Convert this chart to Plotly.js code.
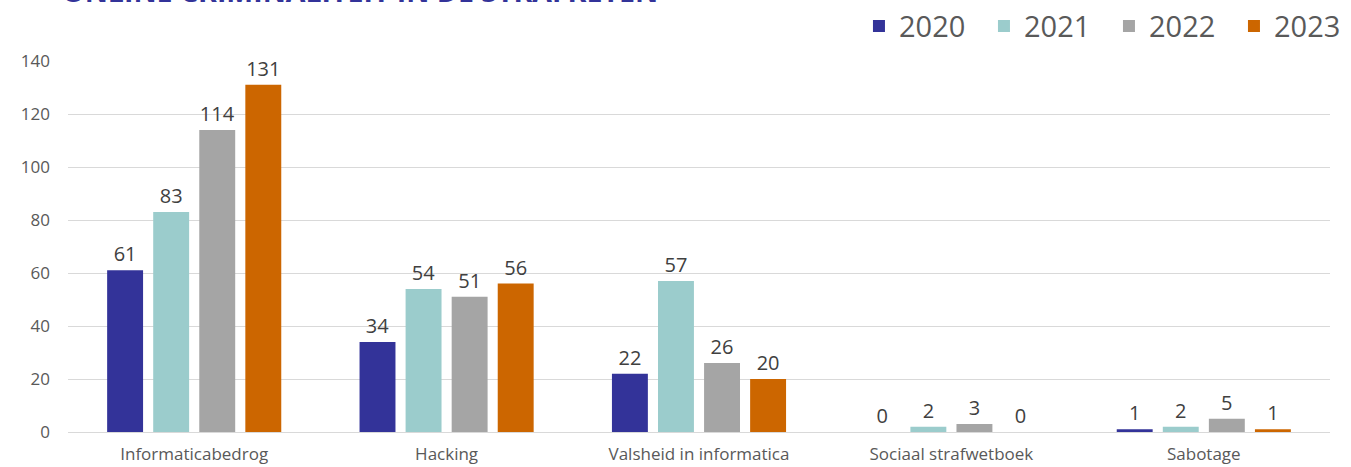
<!DOCTYPE html>
<html>
<head>
<meta charset="utf-8">
<script src="https://cdn.plot.ly/plotly-3.0.1.min.js"></script>
<style>html,body{margin:0;padding:0;background:#fff;}#chart{width:1351px;height:467px;}</style>
</head>
<body>
<div id="chart"></div>
<script>
const categories = ["Informaticabedrog", "Hacking", "Valsheid in informatica", "Sociaal strafwetboek", "Sabotage"];
const years = ["2020", "2021", "2022", "2023"];
const values2020 = [61, 34, 22, 0, 1];
const values2021 = [83, 54, 57, 2, 2];
const values2022 = [114, 51, 26, 3, 5];
const values2023 = [131, 56, 20, 0, 1];
const yTicks = [0, 20, 40, 60, 80, 100, 120, 140];
const titleText = "ONLINE CRIMINALITEIT IN DE STRAFKETEN";

const colors = ["#333399", "#9BCCCC", "#A5A5A5", "#CC6600"];
const series = [values2020, values2021, values2022, values2023];
const fontFam = "'Open Sans', Lato, sans-serif";

const traces = series.map((vals, i) => ({
  type: "bar",
  name: years[i],
  x: categories,
  y: vals,
  marker: {color: colors[i]},
  text: vals.map(String),
  textposition: "outside",
  cliponaxis: false,
  textfont: {family: fontFam, size: 20, color: "#404040"},
  hoverinfo: "x+y+name"
}));

const layout = {
  width: 1351,
  height: 467,
  margin: {l: 68, r: 21, t: 61, b: 35},
  paper_bgcolor: "#ffffff",
  plot_bgcolor: "#ffffff",
  barmode: "group",
  bargap: 0.27,
  bargroupgap: 0.22,
  font: {family: fontFam, color: "#595959"},
  showlegend: true,
  legend: {
    orientation: "h",
    xref: "container", yref: "container",
    x: 0.6358, xanchor: "left",
    y: 0.944, yanchor: "middle",
    font: {family: fontFam, size: 29, color: "#595959"},
    traceorder: "normal",
    itemwidth: 30,
    entrywidth: 80,
    entrywidthmode: "pixels"
  },
  xaxis: {
    type: "category",
    showgrid: false,
    showline: true,
    linecolor: "#d9d9d9",
    linewidth: 1,
    ticks: "",
    tickfont: {family: fontFam, size: 17, color: "#595959"},
    ticklabelstandoff: 7
  },
  yaxis: {
    range: [0, 140],
    tickvals: yTicks,
    ticktext: yTicks.map(String),
    showgrid: true,
    gridcolor: "#d9d9d9",
    gridwidth: 1,
    zeroline: false,
    showline: false,
    ticks: "",
    tickfont: {family: fontFam, size: 17, color: "#595959"},
    ticklabelstandoff: 17
  },
  annotations: [{
    text: "<b>" + titleText + "</b>",
    xref: "paper", yref: "paper",
    x: -0.006, xanchor: "left",
    y: 1.133, yanchor: "bottom",
    showarrow: false,
    font: {family: fontFam, size: 28.5, color: "#333399"}
  }]
};

Plotly.newPlot("chart", traces, layout, {displayModeBar: false, responsive: false});
</script>
</body>
</html>
